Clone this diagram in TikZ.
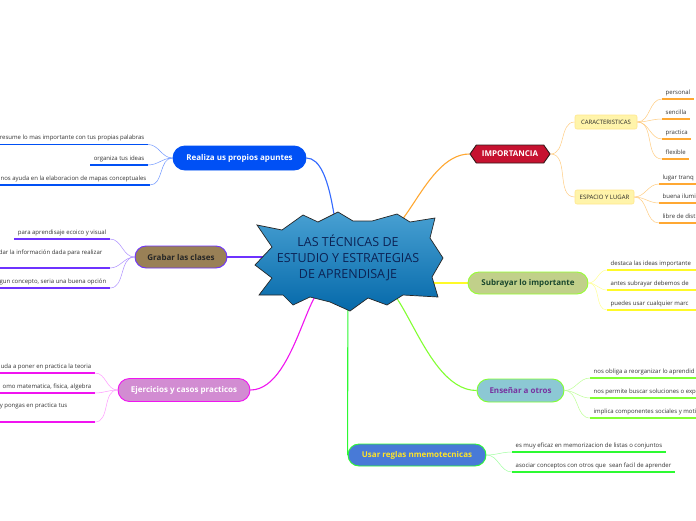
\documentclass[tikz,border=0pt]{standalone}
\usepackage{fontspec}
\setmainfont{Open Sans}
\usetikzlibrary{shapes.misc,shapes.symbols}

\definecolor{apblue}{RGB}{0,80,245}
\definecolor{apbluec}{RGB}{50,105,255}
\definecolor{apbluel}{RGB}{110,150,255}
\definecolor{grbrown}{RGB}{153,128,86}
\definecolor{grpurple}{RGB}{110,50,255}
\definecolor{grpurplel}{RGB}{175,145,255}
\definecolor{ejfill}{RGB}{210,140,210}
\definecolor{ejmag}{RGB}{240,20,240}
\definecolor{ejmagl}{RGB}{255,155,255}
\definecolor{imred}{RGB}{198,18,48}
\definecolor{imline}{RGB}{50,25,25}
\definecolor{imorange}{RGB}{255,168,50}
\definecolor{imorangel}{RGB}{255,205,130}
\definecolor{subfill}{RGB}{255,244,170}
\definecolor{subline}{RGB}{255,232,140}
\definecolor{sufill}{RGB}{193,208,138}
\definecolor{suline}{RGB}{150,255,50}
\definecolor{sutext}{RGB}{25,70,45}
\definecolor{suyellow}{RGB}{255,250,40}
\definecolor{suyellowl}{RGB}{255,255,150}
\definecolor{enfill}{RGB}{140,200,212}
\definecolor{enline}{RGB}{130,255,50}
\definecolor{entext}{RGB}{120,50,160}
\definecolor{enlinel}{RGB}{190,255,150}
\definecolor{usfill}{RGB}{72,122,215}
\definecolor{usline}{RGB}{45,250,50}
\definecolor{ustext}{RGB}{255,228,40}
\definecolor{uslinel}{RGB}{160,255,160}
\definecolor{startop}{RGB}{72,160,210}
\definecolor{starbot}{RGB}{5,105,170}
\definecolor{startext}{RGB}{12,35,85}

\pgfdeclarelayer{bg}
\pgfdeclarelayer{mid}
\pgfsetlayers{bg,mid,main}

\tikzset{
  branch/.style={rounded rectangle, line width=0.9pt, inner sep=0pt,
    font=\fontsize{8}{9}\selectfont\bfseries},
  subbox/.style={rounded corners=2pt, fill=subfill, draw=subline, line width=0.6pt,
    inner sep=0pt, font=\fontsize{6}{7}\selectfont, text=black!85},
  leaf/.style={inner xsep=3.5pt, inner ysep=3pt, text height=4.3pt, text depth=1.5pt,
    font=\fontsize{6}{7}\selectfont, text=black!80},
  trunk/.style={line width=1.1pt},
  twig/.style={line width=0.5pt},
  under/.style={line width=1.5pt},
}

\begin{document}
\begin{tikzpicture}[x=1pt,y=1pt,yscale=-1,xscale=1]
\begin{pgfonlayer}{bg}
\path[fill=white] (0,0) rectangle (696,520);
\end{pgfonlayer}
\useasboundingbox (0,0) rectangle (696,520);
\coordinate (edgeL) at (-4,0);
\coordinate (edgeR) at (700,0);

% centre
\node[font=\fontsize{12.5}{16}\selectfont, text=startext, align=center] (root) at (348,258)
  {LAS TÉCNICAS DE\\ESTUDIO Y ESTRATEGIAS\\DE APRENDISAJE};
\begin{pgfonlayer}{mid}
\draw[top color=startop, bottom color=starbot, draw=black!85, line width=0.7pt]
  (257,225) -- (282,230) -- (303,215) -- (318,222) -- (338,212) -- (353,221) -- (372,221)
  -- (397,214) -- (410,222) -- (435,218) -- (430,238) -- (443,258) -- (432,277)
  -- (438,297) -- (403,295) -- (387,305) -- (368,298) -- (350,311)
  -- (330,302) -- (310,297) -- (293,305) -- (283,295) -- (259,295) -- (272,278) -- (255,265)
  -- (272,247) -- cycle;
\end{pgfonlayer}
% where the trunks leave the star
\coordinate (outN) at (339,222);
\coordinate (outNE) at (369,227);
\coordinate (outSW) at (333,296);
\coordinate (outSE) at (366,293);

% branches
\node[branch, fill=apblue, draw=apblue, text=white, minimum width=133pt, minimum height=24pt]
  (apuntes) at (239.5,158) {Realiza us propios apuntes};
\node[branch, fill=grbrown, draw=grpurple, text=black!85, minimum width=92pt, minimum height=22pt]
  (grabar) at (181,257) {Grabar las clases};
\node[branch, fill=ejfill, draw=ejmag, text=white, minimum width=132pt, minimum height=23pt]
  (ejercicios) at (184,390) {Ejercicios y casos practicos};
\node[signal, signal to=west and east, signal pointer angle=110, fill=imred, draw=imline,
  line width=0.9pt, text=white, inner sep=0pt, minimum width=80pt, minimum height=18pt,
  font=\fontsize{8}{9}\selectfont\bfseries] (importancia) at (510,154) {IMPORTANCIA};
\node[branch, fill=sufill, draw=suline, text=sutext, minimum width=120pt, minimum height=22pt]
  (subrayar) at (528,283) {Subrayar lo importante};
\node[branch, fill=enfill, draw=enline, text=entext, minimum width=87pt, minimum height=23pt]
  (ensenar) at (520.5,390.5) {Enseñar a otros};
\node[branch, fill=usfill, draw=usline, text=ustext, minimum width=138pt, minimum height=22pt]
  (reglas) at (417,455) {Usar reglas nmemotecnicas};

% main connectors
\begin{pgfonlayer}{bg}
\draw[trunk, apbluec] (outN) to[out=100,in=0] (apuntes.east);
\draw[trunk, grpurple] (root.center |- grabar.east) -- (grabar.east);
\draw[trunk, ejmag] (outSW) to[out=-117,in=0] (ejercicios.east);
\draw[trunk, imorange] (outNE) to[out=50,in=180] (importancia.west);
\draw[trunk, suyellow] (root.center |- subrayar.west) -- (subrayar.west);
\draw[trunk, enline] (outSE) to[out=-57,in=180] (ensenar.west);
\draw[trunk, usline] (root.center) -- (reglas.west);
\end{pgfonlayer}

% Realiza us propios apuntes
\node[leaf, anchor=south east] (ap1) at (148,144.5) {resume lo mas importante con tus propias palabras};
\node[leaf, anchor=south east] (ap2) at (148,165) {organiza tus ideas};
\node[leaf, anchor=south east] (ap3) at (150,185) {nos ayuda en la elaboracion de mapas conceptuales};
\draw[under, apblue] (ap1.south east) -- (ap1.south east -| edgeL);
\draw[under, apblue] (ap2.south east) -- (ap2.south west);
\draw[under, apblue] (ap3.south east) -- (ap3.south east -| edgeL);
\foreach \l in {ap1,ap2,ap3}
  \draw[twig, apbluel] (apuntes.west) to[out=180,in=0] (\l.south east);

% Grabar las clases
\node[leaf, anchor=south east] (gr1) at (110,239) {para aprendisaje ecoico y visual};
\node[leaf, anchor=base east] (gr2) at (106,254) {dar la información dada para realizar};
\coordinate (gr2u) at (110,268);
\node[leaf, anchor=south east] (gr3) at (110,288) {gun concepto, seria una buena opción};
\draw[under, grpurple] (gr1.south east) -- (gr1.south west);
\draw[under, grpurple] (gr2u) -- (gr2u -| edgeL);
\draw[under, grpurple] (gr3.south east) -- (gr3.south east -| edgeL);
\draw[twig, grpurplel] (grabar.west) to[out=180,in=0] (gr1.south east);
\draw[twig, grpurplel] (grabar.west) to[out=180,in=0] (gr2u);
\draw[twig, grpurplel] (grabar.west) to[out=180,in=0] (gr3.south east);

% Ejercicios y casos practicos
\node[leaf, anchor=south east] (ej1) at (95,373) {uda a poner en practica la teoria};
\node[leaf, anchor=south east] (ej2) at (95,393) {omo matematica, fisica, algebra};
\node[leaf, anchor=base east] (ej3) at (71,407) {y pongas en practica tus};
\coordinate (ej3u) at (95,422);
\draw[under, ejmag] (ej1.south east) -- (ej1.south east -| edgeL);
\draw[under, ejmag] (ej2.south east) -- (ej2.south east -| edgeL);
\draw[under, ejmag] (ej3u) -- (ej3u -| edgeL);
\draw[twig, ejmagl] (ejercicios.west) to[out=180,in=0] (ej1.south east);
\draw[twig, ejmagl] (ejercicios.west) to[out=180,in=0] (ej2.south east);
\draw[twig, ejmagl] (ejercicios.west) to[out=180,in=0] (ej3u);

% IMPORTANCIA
\node[subbox, minimum width=62pt, minimum height=14pt] (caract) at (606,122) {CARACTERISTICAS};
\node[subbox, minimum width=59pt, minimum height=14pt] (espacio) at (604.5,197) {ESPACIO Y LUGAR};
\draw[twig, imorangel] (importancia.east) to[out=0,in=180] (caract.west);
\draw[twig, imorangel] (importancia.east) to[out=0,in=180] (espacio.west);
\node[leaf, anchor=south west] (ca1) at (662,99) {personal};
\node[leaf, anchor=south west] (ca2) at (662,119) {sencilla};
\node[leaf, anchor=south west] (ca3) at (662,139) {practica};
\node[leaf, anchor=south west] (ca4) at (662,159) {flexible};
\foreach \l in {ca1,ca2,ca3,ca4} {
  \draw[under, imorange] (\l.south west) -- (\l.south east);
  \draw[twig, imorangel] (caract.east) to[out=0,in=180] (\l.south west);
}
\node[leaf, anchor=south west] (es1) at (659,184) {lugar tranq};
\node[leaf, anchor=south west] (es2) at (659,203) {buena ilumi};
\node[leaf, anchor=south west] (es3) at (659,223) {libre de dist};
\foreach \l in {es1,es2,es3} {
  \draw[under, imorange] (\l.south west) -- (\l.south west -| edgeR);
  \draw[twig, imorangel] (espacio.east) to[out=0,in=180] (\l.south west);
}

% Subrayar lo importante
\node[leaf, anchor=south west] (su1) at (607,270) {destaca las ideas importante};
\node[leaf, anchor=south west] (su2) at (607,290) {antes subrayar debemos de};
\node[leaf, anchor=south west] (su3) at (607,310) {puedes usar cualquier marc};
\foreach \l in {su1,su2,su3} {
  \draw[under, suyellow] (\l.south west) -- (\l.south west -| edgeR);
  \draw[twig, suyellowl] (subrayar.east) to[out=0,in=180] (\l.south west);
}

% Enseñar a otros
\node[leaf, anchor=south west] (en1) at (590,378) {nos obliga a reorganizar lo aprendid};
\node[leaf, anchor=south west] (en2) at (590,398) {nos permite buscar soluciones o exp};
\node[leaf, anchor=south west] (en3) at (590,418) {implica componentes sociales y moti};
\foreach \l in {en1,en2,en3} {
  \draw[under, enline] (\l.south west) -- (\l.south west -| edgeR);
  \draw[twig, enlinel] (ensenar.east) to[out=0,in=180] (\l.south west);
}

% Usar reglas nmemotecnicas
\node[leaf, anchor=south west] (us1) at (512,452) {es muy eficaz en memorizacion de listas o conjuntos};
\node[leaf, anchor=south west] (us2) at (512,472) {asociar conceptos con otros que\ \ sean facil de aprender};
\foreach \l in {us1,us2} {
  \draw[under, usline] (\l.south west) -- (\l.south east);
  \draw[twig, uslinel] (reglas.east) to[out=0,in=180] (\l.south west);
}

\end{tikzpicture}
\end{document}
